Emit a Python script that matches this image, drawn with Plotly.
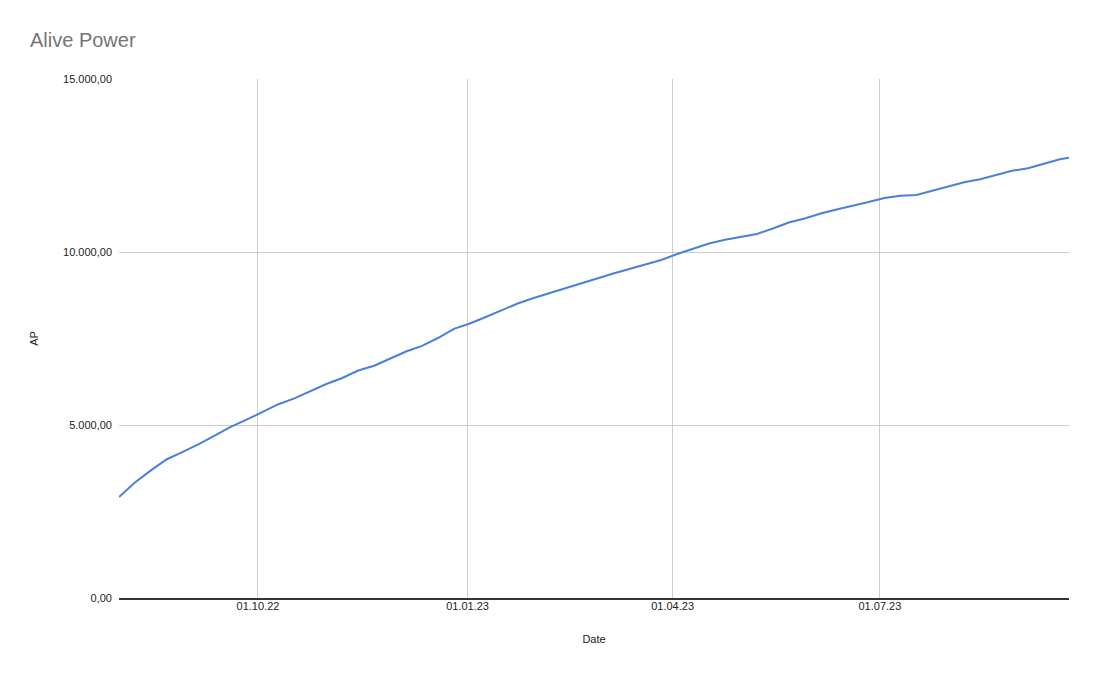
import datetime as dt
import plotly.graph_objects as go

start = dt.date(2022, 8, 1)
dates = [start + dt.timedelta(days=7 * k) for k in range(60)] + [dt.date(2023, 9, 22)]
ap_values = [
    2919, 3341, 3688, 4011, 4225, 4445, 4691, 4945, 5156, 5384,
    5601, 5771, 5968, 6185, 6358, 6575, 6713, 6922, 7124, 7288,
    7514, 7780, 7933, 8121, 8323, 8511, 8670, 8815, 8959, 9104,
    9234, 9378, 9508, 9638, 9768, 9942, 10101, 10245, 10352, 10433,
    10520, 10679, 10852, 10968, 11112, 11228, 11329, 11444, 11560, 11624,
    11647, 11762, 11892, 12014, 12100, 12219, 12346, 12421, 12543, 12679,
    12725,
]
y_ticks = [0, 5000, 10000, 15000]
x_ticks = ["2022-10-01", "2023-01-01", "2023-04-01", "2023-07-01"]

fig = go.Figure(go.Scatter(
    x=dates, y=ap_values, mode="lines",
    line=dict(color="#4a80dc", width=2),
    hoverinfo="x+y",
))

font = "Liberation Sans, Arial, sans-serif"
fig.update_layout(
    width=1103, height=674,
    margin=dict(l=111, r=42, t=71, b=84),
    paper_bgcolor="white", plot_bgcolor="white",
    separators=",.",
    font=dict(family=font, size=11, color="#222222"),
    title=dict(text="Alive Power", x=22 / 1103, xanchor="left", y=1 - 32 / 674, yanchor="middle",
               font=dict(family=font, size=20, color="#757575")),
    showlegend=False,
    xaxis=dict(
        range=[dates[0], dates[-1]],
        tickvals=x_ticks, tickformat="%d.%m.%y",
        showgrid=True, gridcolor="#cccccc", gridwidth=1,
        showline=True, linecolor="#333333", linewidth=1.5,
        ticks="", tickfont=dict(size=11, color="#222222"),
        ticklabelstandoff=-3,
        title=dict(text="Date", standoff=24, font=dict(size=11, color="#222222")),
        zeroline=False,
    ),
    yaxis=dict(
        range=[0, 15000], tickvals=y_ticks, tickformat=",.2f",
        showgrid=True, gridcolor="#cccccc", gridwidth=1,
        zeroline=False, showline=False, ticks="",
        ticklabelstandoff=6,
        tickfont=dict(size=11, color="#222222"),
        title=dict(text="AP", standoff=22, font=dict(size=11, color="#222222")),
    ),
)

fig.write_html("out.html")
